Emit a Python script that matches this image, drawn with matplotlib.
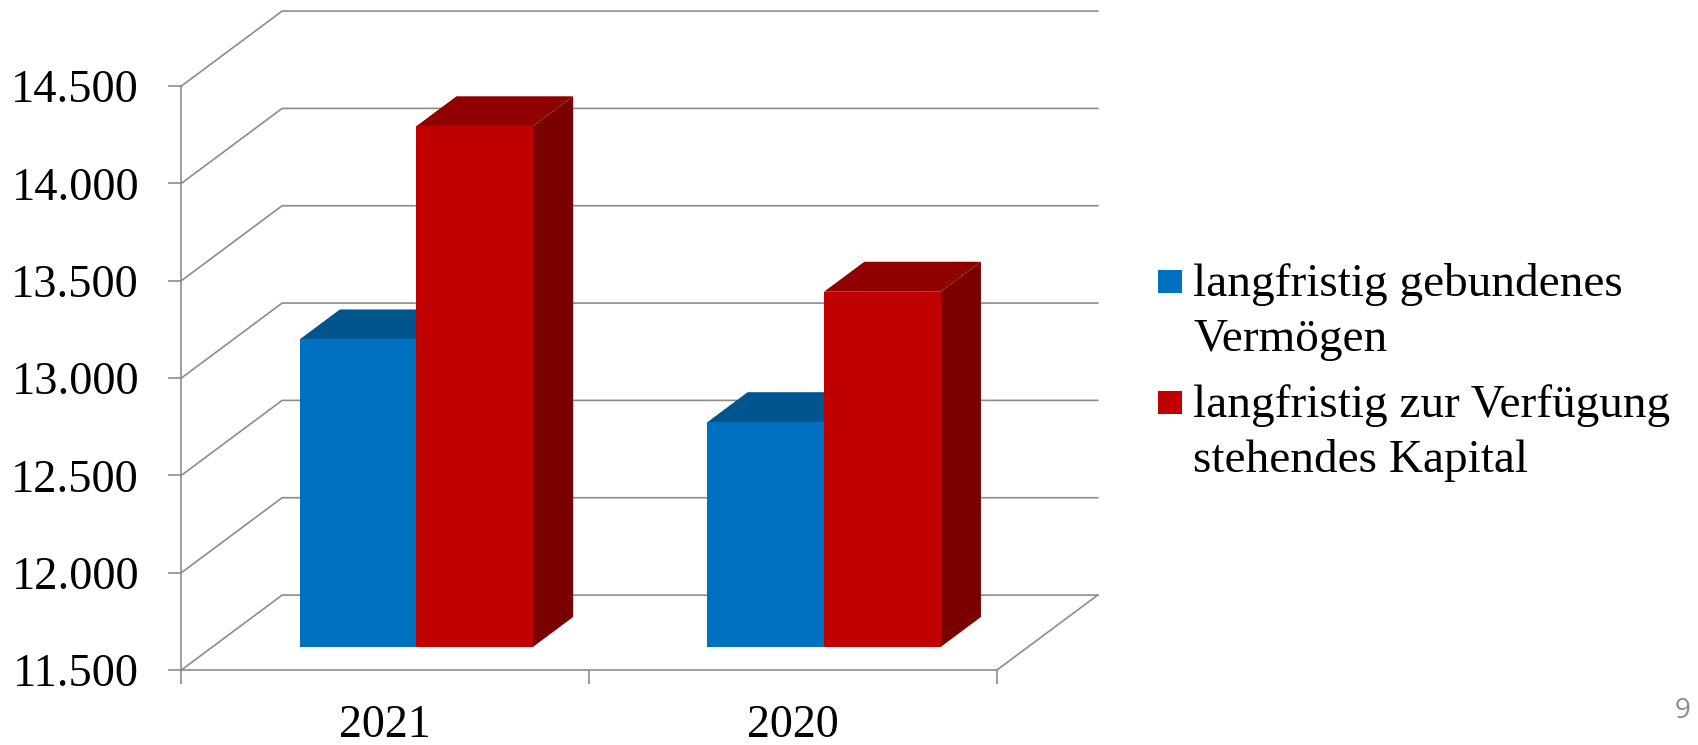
import matplotlib
matplotlib.use("Agg")
import matplotlib.pyplot as plt
from matplotlib.patches import Polygon, Rectangle

# data
years = ["2021", "2020"]
series_names = ["langfristig gebundenes\nVermögen",
                "langfristig zur Verfügung\nstehendes Kapital"]
vermoegen = [13080, 12655]
kapital = [14175, 13325]
y_ticks = [11500, 12000, 12500, 13000, 13500, 14000, 14500]

front_colors = ["#0070C0", "#C00000"]
top_colors = ["#00558F", "#900000"]
side_colors = ["#004A7E", "#7A0000"]
grid_col = "#8C8C8C"

# 3d box geometry (category units / value units)
YMIN, YMAX = 11500, 14500
X_LEFT, X_RIGHT = -0.5, 1.5
DEPTH_X, DEPTH_Y = 0.247, 385.0
BAR_W = 0.286
BAR_START, BAR_DEPTH = 0.307, 0.40

W, H = 1698, 745
fig = plt.figure(figsize=(W / 100, H / 100), dpi=100)
px_per_cat = 407.8
px_per_val = 97.33 / 500
ax_w = (X_RIGHT + DEPTH_X - X_LEFT) * px_per_cat
ax_h = (YMAX + DEPTH_Y - YMIN) * px_per_val
ax = fig.add_axes([181.4 / W, 75 / H, ax_w / W, ax_h / H])
ax.set_xlim(X_LEFT, X_RIGHT + DEPTH_X)
ax.set_ylim(YMIN, YMAX + DEPTH_Y)

# back wall grid + side wall diagonals
for v in y_ticks:
    ax.plot([X_LEFT, X_LEFT + DEPTH_X, X_RIGHT + DEPTH_X],
            [v, v + DEPTH_Y, v + DEPTH_Y],
            color=grid_col, lw=1.2, clip_on=False, zorder=1)
# floor right edge
ax.plot([X_RIGHT, X_RIGHT + DEPTH_X], [YMIN, YMIN + DEPTH_Y],
        color=grid_col, lw=1.2, clip_on=False, zorder=1)

# bars
for i in range(len(years)):
    for s, vals in enumerate([vermoegen, kapital]):
        v = vals[i]
        xl = i + (s - 1) * BAR_W + BAR_START * DEPTH_X
        xr = xl + BAR_W
        base = YMIN + BAR_START * DEPTH_Y
        top = base + (v - YMIN)
        ddx = BAR_DEPTH * DEPTH_X
        ddy = BAR_DEPTH * DEPTH_Y
        z = 3 + s * 3
        ax.add_patch(Polygon([(xr, base), (xr, top), (xr + ddx, top + ddy),
                              (xr + ddx, base + ddy)],
                             closed=True, facecolor=side_colors[s],
                             edgecolor="none", zorder=z))
        ax.add_patch(Polygon([(xl, top), (xr, top), (xr + ddx, top + ddy),
                              (xl + ddx, top + ddy)],
                             closed=True, facecolor=top_colors[s],
                             edgecolor="none", zorder=z + 1))
        ax.bar(xl, v - YMIN, bottom=base, width=BAR_W, align="edge",
               color=front_colors[s], zorder=z + 2)

# axes styling
for sp in ["top", "right"]:
    ax.spines[sp].set_visible(False)
ax.spines["left"].set_bounds(YMIN, YMAX)
ax.spines["bottom"].set_bounds(X_LEFT, X_RIGHT)
for sp in ["left", "bottom"]:
    ax.spines[sp].set_color(grid_col)
    ax.spines[sp].set_linewidth(1.2)

ax.set_yticks(y_ticks)
ax.set_yticklabels([f"{t:,}".replace(",", ".") for t in y_ticks])
ax.tick_params(axis="y", length=9.5, width=1.2, color=grid_col, pad=21,
               labelsize=33.5)
ax.set_xticks([X_LEFT, 0.5, X_RIGHT])
ax.set_xticklabels(["", "", ""])
ax.set_xticks([0, 1], minor=True)
ax.set_xticklabels(years, minor=True)
ax.tick_params(axis="x", which="major", length=10, width=1.2, color=grid_col)
ax.tick_params(axis="x", which="minor", length=0, pad=25, labelsize=33)
for lab in ax.get_yticklabels() + ax.get_xticklabels(minor=True):
    lab.set_fontfamily("Liberation Serif")

# legend
leg_rows = [(270, 296), (391, 417)]
for s, (sq_top, base_y) in enumerate(leg_rows):
    fig.patches.append(Rectangle((1158 / W, 1 - (sq_top + 23) / H), 24 / W, 23 / H,
                                 transform=fig.transFigure,
                                 facecolor=front_colors[s], edgecolor="none"))
    for k, line in enumerate(series_names[s].split("\n")):
        fig.text(1193 / W, 1 - (base_y + 55 * k) / H, line, fontsize=34,
                 family="Liberation Serif", va="baseline", ha="left")

# page number
fig.text(1690 / W, 1 - 718 / H, "9", fontsize=20, color="#8C8C8C",
         family="Open Sans", ha="right", va="baseline")

fig.savefig("out.png", dpi=100)
